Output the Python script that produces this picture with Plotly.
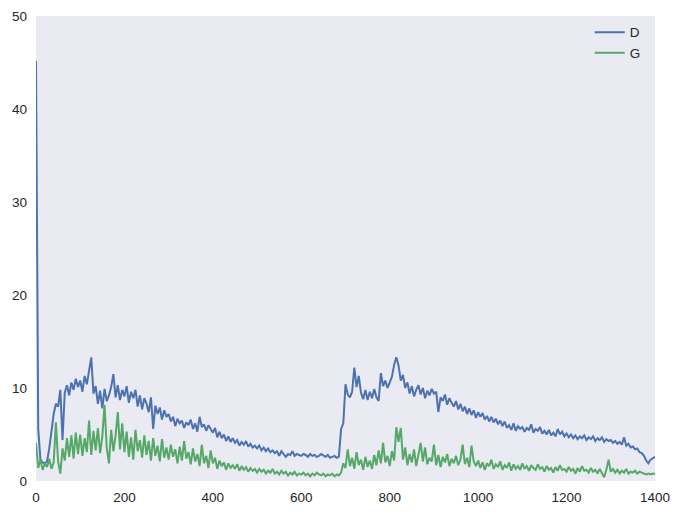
import plotly.graph_objects as go

step = 5
d_loss = [
    45.2, 5.6, 2.3, 2.0, 1.9, 2.1, 3.5, 5.2, 7.2, 8.3,
    8.0, 9.8, 4.4, 9.5, 10.3, 9.2, 10.6, 9.8, 11.0, 10.1,
    10.8, 9.6, 11.3, 10.4, 12.1, 13.3, 9.4, 10.2, 8.3, 9.7,
    7.8, 9.9, 8.6, 9.2, 10.1, 11.5, 9.0, 10.3, 8.7, 9.8,
    9.1, 10.2, 8.4, 9.6, 8.9, 9.8, 8.0, 9.2, 7.7, 8.9,
    8.3, 7.4, 9.0, 5.6, 8.1, 7.2, 7.9, 6.6, 7.6, 6.9,
    7.2, 6.4, 6.9, 5.9, 6.7, 6.2, 6.5, 5.7, 6.3, 6.0,
    6.6, 5.6, 6.2, 5.3, 6.9, 5.8, 6.1, 5.4, 6.0, 5.6,
    5.2, 5.7, 4.7, 5.3, 4.6, 5.0, 4.3, 4.8, 4.2, 4.6,
    4.1, 4.4, 3.8, 4.2, 3.9, 4.3, 3.7, 4.0, 3.6, 3.8,
    3.5, 3.8, 3.3, 3.6, 3.2, 3.5, 3.1, 3.3, 3.0, 3.2,
    2.7, 3.2, 2.9, 2.6, 2.9, 2.8, 3.2, 2.7, 2.9, 2.8,
    2.7, 2.9, 2.8, 2.6, 2.9, 2.7, 2.8, 2.6, 2.7, 2.9,
    2.7, 2.6, 2.8, 2.5, 2.6, 2.7, 2.5, 2.6, 5.6, 6.2,
    10.4, 9.3, 9.0, 9.6, 12.2, 10.1, 11.3, 9.5, 8.8, 9.8,
    8.7, 9.6, 8.9, 9.9, 9.0, 8.6, 11.6, 10.2, 10.8, 10.0,
    10.6, 11.2, 12.5, 13.3, 12.4, 10.8, 11.4, 10.0, 10.6, 9.4,
    10.2, 9.1, 9.8, 10.3, 9.3, 10.0, 8.9, 9.7, 9.2, 9.9,
    9.4, 9.6, 7.4, 9.0, 8.6, 9.3, 8.2, 8.9, 8.4, 8.0,
    8.6, 7.7, 8.3, 7.5, 8.0, 7.2, 7.8, 7.1, 7.6, 6.8,
    7.4, 6.9, 7.3, 6.6, 7.0, 6.4, 6.9, 6.3, 6.7, 6.1,
    6.5, 5.9, 6.4, 5.7, 6.0, 5.5, 6.2, 5.4, 5.9, 5.6,
    5.8, 5.3, 5.7, 5.5, 6.1, 5.2, 5.6, 5.4, 5.8, 5.1,
    5.4, 5.0, 5.5, 4.9, 5.2, 4.8, 5.6, 5.0, 5.3, 4.8,
    5.1, 4.7, 5.0, 4.6, 4.9, 4.5, 4.8, 4.6, 4.9, 4.4,
    4.7, 4.5, 4.8, 4.3, 4.6, 4.4, 4.7, 4.2, 4.5, 4.3,
    4.4, 4.1, 4.3, 4.0, 4.2, 3.9, 4.7, 3.8, 4.0, 3.6,
    3.7, 3.4, 3.5, 3.1, 3.0, 2.7, 2.2, 1.9, 2.3, 2.5,
    2.6,
]
g_loss = [
    4.1, 1.4, 2.3, 1.2, 1.9, 1.5, 2.4, 1.3, 2.0, 6.3,
    2.1, 0.8, 3.5, 2.2, 4.6, 2.6, 4.9, 2.4, 5.2, 2.9,
    5.0, 2.7, 4.6, 3.1, 6.5, 2.8, 5.4, 3.3, 5.7, 3.0,
    4.8, 8.2, 3.6, 1.9, 5.5, 3.2, 4.9, 7.4, 3.4, 6.2,
    3.1, 5.3, 2.6, 4.7, 2.3, 5.5, 3.2, 4.4, 2.5, 4.9,
    2.8, 4.3, 2.2, 4.6, 2.7, 3.8, 2.1, 4.5, 2.5, 3.6,
    2.3, 3.9, 2.6, 3.4, 1.9, 3.7, 2.2, 4.3, 2.4, 3.1,
    1.8, 3.5, 2.1, 2.9, 1.6, 3.9, 1.9, 2.7, 1.4, 3.3,
    1.9, 2.5, 1.3, 2.2, 1.6, 2.0, 1.2, 1.9, 1.4, 1.7,
    1.3, 1.8, 1.1, 1.6, 1.2, 1.5, 1.0, 1.4, 1.1, 1.3,
    0.9, 1.3, 1.0, 1.2, 0.8, 1.1, 0.9, 1.3, 0.8, 1.0,
    0.7, 1.1, 0.8, 1.0, 0.6, 0.9, 0.7, 1.0, 0.6, 0.8,
    0.7, 0.9, 0.6, 0.8, 0.5, 0.8, 0.6, 0.9, 0.7, 0.6,
    0.8, 0.5, 0.7, 0.6, 0.8, 0.5, 0.7, 0.6, 0.9, 1.9,
    1.4, 3.4, 1.6, 2.5, 1.3, 3.1, 1.7, 2.3, 1.2, 2.6,
    1.5, 2.2, 1.3, 2.8, 1.7, 3.3, 1.9, 4.1, 2.0, 2.7,
    1.6, 3.2, 2.2, 5.8, 4.2, 5.7, 2.3, 3.6, 1.7, 2.9,
    2.0, 3.4, 1.6, 2.7, 4.1, 2.1, 3.6, 1.8, 2.5, 2.1,
    3.9, 1.7, 2.8, 1.5, 2.6, 2.0, 2.9, 1.6, 2.4, 1.9,
    2.7, 1.7, 2.3, 3.9, 1.8, 2.5, 1.5, 3.8, 2.1, 1.6,
    2.2, 1.4, 2.0, 1.2, 1.9, 1.6, 2.3, 1.3, 1.8, 1.5,
    2.1, 1.2, 1.7, 1.4, 2.0, 1.1, 1.8, 1.3, 1.6, 1.2,
    1.9, 1.3, 1.6, 1.1, 1.7, 1.4, 1.2, 1.8, 1.3, 1.5,
    1.0, 1.6, 1.2, 1.4, 0.9, 1.5, 1.1, 1.7, 1.2, 1.3,
    1.0, 1.5, 1.1, 1.3, 0.8, 1.4, 1.0, 1.6, 1.1, 1.2,
    0.9, 1.4, 1.0, 1.2, 0.8, 1.3, 0.9, 0.4, 1.2, 2.3,
    1.0, 1.3, 0.9, 1.2, 0.8, 1.1, 0.9, 1.3, 0.8, 1.0,
    0.9, 1.1, 0.8, 1.0, 0.9, 0.8, 0.7, 0.8, 0.7, 0.8,
    0.75,
]
iterations = [i * step for i in range(len(d_loss))]
x_ticks = [0, 200, 400, 600, 800, 1000, 1200, 1400]
y_ticks = [0, 10, 20, 30, 40, 50]

fig = go.Figure()
fig.add_trace(go.Scatter(x=iterations, y=d_loss, mode="lines", name="D",
                         line=dict(color="#4C72B0", width=2)))
fig.add_trace(go.Scatter(x=iterations, y=g_loss, mode="lines", name="G",
                         line=dict(color="#55A868", width=2)))

# the page body has an 8px default margin, so offsets are compensated here
fig.update_layout(
    width=680, height=515,
    margin=dict(l=28, r=33, t=8, b=42, autoexpand=False),
    paper_bgcolor="white", plot_bgcolor="#EAEAF2",
    font=dict(family="Liberation Sans, Arial, sans-serif", size=13.5, color="#262626"),
    showlegend=True,
    legend=dict(x=0.985, y=0.998, xanchor="right", yanchor="top",
                bgcolor="rgba(0,0,0,0)", font=dict(size=13.5), itemwidth=30,
                tracegroupgap=0),
)
fig.update_xaxes(range=[0, 1400], tickvals=x_ticks, showgrid=False, zeroline=False,
                 showline=False, ticks="", ticklabelstandoff=6)
fig.update_yaxes(range=[0, 50], tickvals=y_ticks, showgrid=False, zeroline=False,
                 showline=False, ticks="", ticklabelstandoff=8)

fig.write_html("out.html")
